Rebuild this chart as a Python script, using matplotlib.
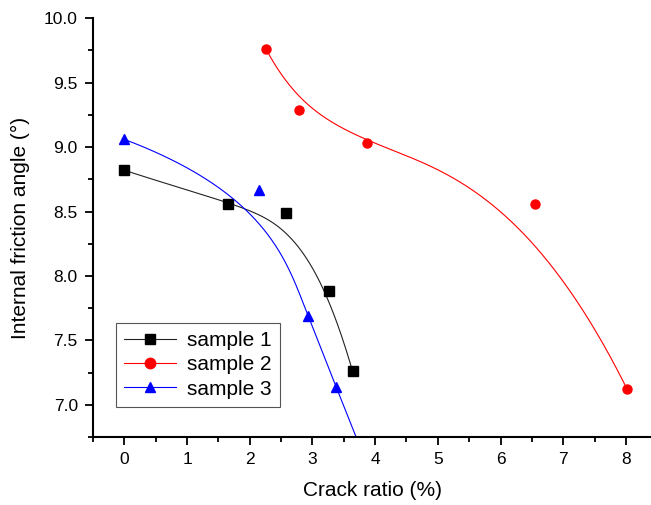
#!/usr/bin/env python3
"""Internal friction angle vs crack ratio, three samples with B-spline curves."""

import numpy as np
import matplotlib
matplotlib.use('Agg')
import matplotlib.pyplot as plt
from matplotlib.ticker import MultipleLocator, FormatStrFormatter

plt.rcParams['font.family'] = ['Liberation Sans', 'DejaVu Sans']

# values
s1_x = [0.0, 1.66, 2.58, 3.27, 3.64]
s1_y = [8.82, 8.56, 8.49, 7.88, 7.26]
s2_x = [2.26, 2.78, 3.87, 6.55, 8.02]
s2_y = [9.76, 9.29, 9.03, 8.56, 7.12]
# last point of sample 3 lies below the visible range (curve leaves the axes)
s3_x = [0.0, 2.15, 2.93, 3.38, 3.90]
s3_y = [9.06, 8.665, 7.69, 7.135, 6.50]


def bspline(xs, ys, k=3, num=400):
    """Clamped B-spline using the points as control points."""
    P = np.column_stack([xs, ys])
    n = len(P)
    k = min(k, n - 1)
    inner = np.linspace(0, 1, n - k + 1)[1:-1]
    t = np.concatenate([np.zeros(k + 1), inner, np.ones(k + 1)])
    u = np.linspace(0, 1, num)
    u[-1] -= 1e-9
    # Cox-de Boor recursion
    N = np.array([((t[i] <= u) & (u < t[i + 1])).astype(float) for i in range(len(t) - 1)])
    for d in range(1, k + 1):
        Nn = np.zeros((len(t) - 1 - d, num))
        for i in range(len(t) - 1 - d):
            a = 0.0
            b = 0.0
            if t[i + d] > t[i]:
                a = (u - t[i]) / (t[i + d] - t[i]) * N[i]
            if t[i + d + 1] > t[i + 1]:
                b = (t[i + d + 1] - u) / (t[i + d + 1] - t[i + 1]) * N[i + 1]
            Nn[i] = a + b
        N = Nn
    C = N.T @ P
    return C[:, 0], C[:, 1]


series = [
    ('sample 1', s1_x, s1_y, '#222222', 's'),
    ('sample 2', s2_x, s2_y, 'red', 'o'),
    ('sample 3', s3_x, s3_y, 'blue', '^'),
]

fig = plt.figure(figsize=(6.51, 5.05), dpi=100)
ax = fig.add_axes([0.1429, 0.1347, 0.8571, 0.8291])

for label, xs, ys, color, marker in series:
    cx, cy = bspline(xs, ys)
    ax.plot(cx, cy, color=color, lw=0.8)
    mc = 'black' if marker == 's' else color
    ax.plot(xs, ys, linestyle='none', marker=marker, color=mc, ms=6.5)
    # legend proxy: line with marker
    ax.plot([], [], color=color, lw=0.8, marker=marker, mfc=mc, mec=mc, ms=7.5, label=label)

ax.set_xlim(-0.5, 8.4)
ax.set_ylim(6.75, 10.0)
ax.xaxis.set_major_locator(MultipleLocator(1))
ax.xaxis.set_minor_locator(MultipleLocator(0.5))
ax.yaxis.set_major_locator(MultipleLocator(0.5))
ax.yaxis.set_minor_locator(MultipleLocator(0.25))
ax.yaxis.set_major_formatter(FormatStrFormatter('%.1f'))

for side in ('top', 'right'):
    ax.spines[side].set_visible(False)
for side in ('left', 'bottom'):
    ax.spines[side].set_linewidth(1.5)
ax.tick_params(which='major', direction='out', length=6, width=1.3, labelsize=12.5, pad=5)
ax.tick_params(which='minor', direction='out', length=3.5, width=1.3)

ax.set_xlabel('Crack ratio (%)', fontsize=15, labelpad=10)
ax.set_ylabel('Internal friction angle (°)', fontsize=15, labelpad=10)

leg = ax.legend(loc='lower left', bbox_to_anchor=(0.0412, 0.0717), borderaxespad=0,
                fontsize=15, fancybox=False, framealpha=1, edgecolor='#555555',
                handlelength=2.5, handletextpad=0.5, labelspacing=0.25, borderpad=0.4)
leg.get_frame().set_linewidth(0.8)

fig.savefig('out.png', dpi=100)
